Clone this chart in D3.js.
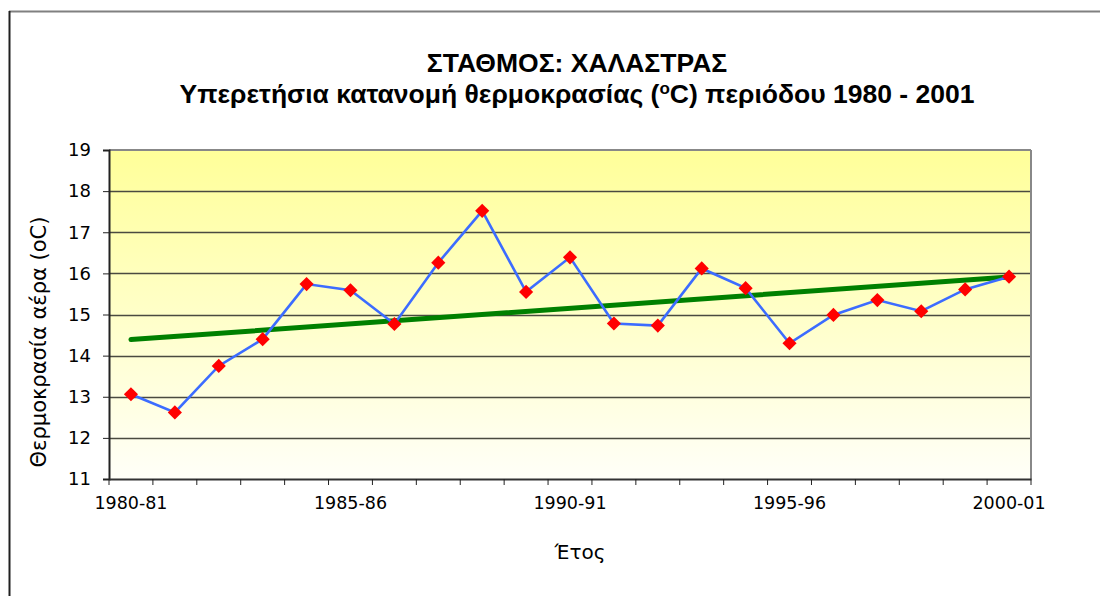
<!DOCTYPE html>
<html><head><meta charset="utf-8">
<script src="https://cdn.jsdelivr.net/npm/d3@7"></script>
<style>html,body{margin:0;padding:0;background:#fff;}svg{display:block;}</style>
</head><body>
<svg id="c" width="1100" height="596"></svg>
<script>
const years = ["1980-81","1981-82","1982-83","1983-84","1984-85","1985-86","1986-87","1987-88","1988-89","1989-90","1990-91","1991-92","1992-93","1993-94","1994-95","1995-96","1996-97","1997-98","1998-99","1999-00","2000-01"];
const temps = [13.06,12.62,13.75,14.40,15.74,15.59,14.77,16.26,17.52,15.55,16.39,14.78,14.73,16.12,15.64,14.30,14.99,15.35,15.08,15.61,15.92];
const shownLabels = ["1980-81","1985-86","1990-91","1995-96","2000-01"];
const yTicks = [11,12,13,14,15,16,17,18,19];
const title1 = "ΣΤΑΘΜΟΣ: ΧΑΛΑΣΤΡΑΣ";
const title2a = "Υπερετήσια κατανομή θερμοκρασίας (";
const title2b = "C) περιόδου 1980 - 2001";
const yTitle = "Θερμοκρασία αέρα (oC)";
const xTitle = "Έτος";

const svg = d3.select("#c");
const L=109, R=1031, T=150, B=479;

// outer frame
svg.append("line").attr("x1",9).attr("y1",11.5).attr("x2",1100).attr("y2",11.5).attr("stroke","#808080").attr("stroke-width",2);
svg.append("line").attr("x1",9.5).attr("y1",11).attr("x2",9.5).attr("y2",596).attr("stroke","#202020").attr("stroke-width",2);

const x = d3.scaleBand().domain(years).range([L,R]).padding(0);
const y = d3.scaleLinear().domain([11,19]).range([B,T]);

const defs = svg.append("defs");
const g = defs.append("linearGradient").attr("id","bg").attr("x1",0).attr("y1",0).attr("x2",0).attr("y2",1);
g.append("stop").attr("offset","0%").attr("stop-color","#FFFF99");
g.append("stop").attr("offset","100%").attr("stop-color","#FFFFF8");
svg.append("rect").attr("x",L).attr("y",T).attr("width",R-L).attr("height",B-T).attr("fill","url(#bg)");

// gridlines
svg.append("g").selectAll("line").data(yTicks.filter(d=>d>11&&d<19)).join("line")
  .attr("x1",L).attr("x2",R).attr("y1",d=>Math.round(y(d))+0.5).attr("y2",d=>Math.round(y(d))+0.5)
  .attr("stroke","#4a4a40").attr("stroke-width",1.3);

// plot border top/right
svg.append("line").attr("x1",L).attr("x2",R).attr("y1",T).attr("y2",T).attr("stroke","#888").attr("stroke-width",2);
svg.append("line").attr("x1",R).attr("x2",R).attr("y1",T).attr("y2",B).attr("stroke","#888").attr("stroke-width",2);

// y axis
const yAxis = svg.append("g").attr("transform",`translate(${L},0)`)
  .call(d3.axisLeft(y).tickValues(yTicks).tickSize(6).tickPadding(12).tickFormat(d3.format("d")));
yAxis.select(".domain").attr("stroke","#222").attr("stroke-width",2);
yAxis.selectAll(".tick line").attr("stroke","#222");
yAxis.selectAll("text").attr("font-family","DejaVu Sans").attr("font-size",18).attr("fill","#000");

// x axis
const xAxis = svg.append("g").attr("transform",`translate(0,${B})`)
  .call(d3.axisBottom(x).tickValues(shownLabels).tickSize(0).tickPadding(18));
xAxis.select(".domain").attr("stroke","#333").attr("stroke-width",2);
xAxis.selectAll("text").attr("font-family","DejaVu Sans").attr("font-size",17.5).attr("fill","#000");
// category boundary ticks
const bounds = years.map(d=>x(d)).concat([x(years[years.length-1])+x.bandwidth()]);
svg.append("g").selectAll("line").data(bounds).join("line")
  .attr("x1",d=>d).attr("x2",d=>d).attr("y1",B).attr("y2",B+6).attr("stroke","#222").attr("stroke-width",1);

const cx = d=>x(d)+x.bandwidth()/2;

// trend line (least squares)
const n=temps.length, xs=d3.range(n);
const mx=d3.mean(xs), my=d3.mean(temps);
const slope=d3.sum(xs,i=>(i-mx)*(temps[i]-my))/d3.sum(xs,i=>(i-mx)*(i-mx));
const icpt=my-slope*mx;
svg.append("line").attr("x1",cx(years[0])).attr("y1",y(icpt))
  .attr("x2",cx(years[n-1])).attr("y2",y(icpt+slope*(n-1)))
  .attr("stroke","#008000").attr("stroke-width",5).attr("stroke-linecap","round");

// data line
const line = d3.line().x((d,i)=>cx(years[i])).y(d=>y(d));
svg.append("path").datum(temps).attr("d",line).attr("fill","none").attr("stroke","#3c6cff").attr("stroke-width",2.6);

// markers
svg.append("g").selectAll("path").data(temps).join("path")
  .attr("d",d3.symbol(d3.symbolSquare, 100))
  .attr("transform",(d,i)=>`translate(${cx(years[i])},${y(d)}) rotate(45)`)
  .attr("fill","#ff0000");

// titles
svg.append("text").attr("x",577).attr("y",72).attr("text-anchor","middle")
  .attr("font-family","Liberation Sans, Arial").attr("font-weight","bold").attr("font-size",26.5).text(title1);
const t2 = svg.append("text").attr("x",577).attr("y",103).attr("text-anchor","middle")
  .attr("font-family","Liberation Sans, Arial").attr("font-weight","bold").attr("font-size",26.5);
t2.append("tspan").text(title2a);
t2.append("tspan").attr("font-size",17).attr("dy",-9).text("o");
t2.append("tspan").attr("dy",9).text(title2b);

svg.append("text").attr("transform","translate(46,342) rotate(-90)").attr("text-anchor","middle")
  .attr("font-family","DejaVu Sans").attr("font-size",21).text(yTitle);
svg.append("text").attr("x",580).attr("y",559).attr("text-anchor","middle")
  .attr("font-family","DejaVu Sans").attr("font-size",20).text(xTitle);
</script>
</body></html>
